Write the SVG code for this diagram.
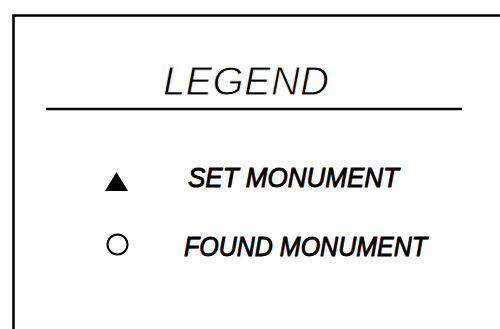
<svg xmlns="http://www.w3.org/2000/svg" width="500" height="329" viewBox="0 0 500 329">
<style>
.frame{fill:none;stroke:#000;stroke-width:2.5}
.rule{stroke:#000;stroke-width:2.5}
.title{font-family:"Liberation Sans",Arial,sans-serif;font-style:italic;font-size:40px;fill:#000;stroke:#fff;stroke-width:0.8}
.item{font-family:"Liberation Sans",Arial,sans-serif;font-style:italic;font-size:28px;fill:#000;stroke:#000;stroke-width:0.9}
</style>
<rect width="500" height="329" fill="#fff"/>
<g id="frame"><path class="frame" d="M13.5 329 V15.5 H500"/></g>
<g id="title">
<text class="title" x="163" y="95" textLength="166" lengthAdjust="spacing">LEGEND</text>
<line class="rule" x1="46" y1="109" x2="462" y2="109"/>
</g>
<g id="set-monument">
<polygon points="116.5,172 105,191 128,191" fill="#000"/>
<text class="item" x="188" y="187" textLength="211" lengthAdjust="spacingAndGlyphs">SET MONUMENT</text>
</g>
<g id="found-monument">
<circle cx="117.5" cy="244.5" r="10" fill="none" stroke="#000" stroke-width="2"/>
<text class="item" x="184" y="256" textLength="243" lengthAdjust="spacingAndGlyphs">FOUND MONUMENT</text>
</g>
</svg>
